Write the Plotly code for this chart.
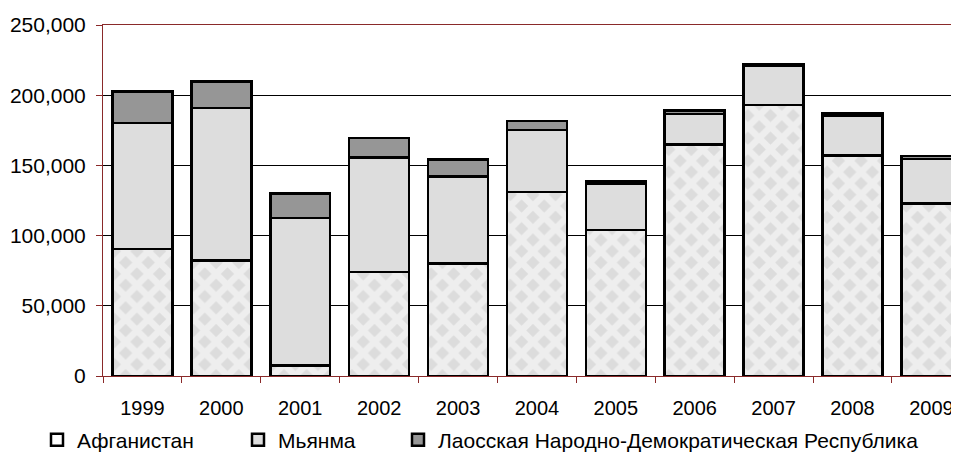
import plotly.graph_objects as go

years = ["1999", "2000", "2001", "2002", "2003", "2004", "2005", "2006", "2007", "2008", "2009"]
afghanistan = [90583, 82171, 7606, 74100, 80000, 131000, 104000, 165000, 193000, 157000, 123000]
myanmar = [89500, 108700, 105000, 81400, 62200, 44200, 32800, 21500, 27700, 28500, 31700]
laos = [22543, 19052, 17255, 14000, 12000, 6600, 1800, 2500, 1500, 1600, 1900]
y_ticks = [0, 50000, 100000, 150000, 200000, 250000]

W, H = 951, 447          # page body has an 8px margin inside the 959x463 window
axis_red = "#8a2a2a"
FAM = "Liberation Sans, Arial, sans-serif"
font = dict(family=FAM, size=20, color="black")
legend_font = dict(family=FAM, size=21, color="black")

fig = go.Figure()
fig.add_trace(go.Bar(
    x=years, y=afghanistan, name="Афганистан", showlegend=False,
    marker=dict(color="#dcdcdc", line=dict(color="black", width=2.5),
                pattern=dict(shape="x", fgcolor="white", bgcolor="#dcdcdc", size=16, solidity=0.66)),
))
# legend-only entry for Афганистан (plain white swatch as in the reference)
fig.add_trace(go.Bar(
    x=[years[0]], y=[None], name="Афганистан", legend="legend", showlegend=True,
    marker=dict(color="white", line=dict(color="black", width=2.5)), hoverinfo="skip",
))
fig.add_trace(go.Bar(
    x=years, y=myanmar, name="Мьянма", legend="legend2",
    marker=dict(color="#dddddd", line=dict(color="black", width=2.5)),
))
fig.add_trace(go.Bar(
    x=years, y=laos, name="Лаосская Народно-Демократическая Республика", legend="legend3",
    marker=dict(color="#969696", line=dict(color="black", width=2.5)),
))

def leg(square_px):
    return dict(orientation="h", xref="container", yref="container",
                x=(square_px - 23) / W, xanchor="left",
                y=15 / H, yanchor="middle", font=legend_font, itemwidth=30,
                bgcolor="rgba(0,0,0,0)", borderwidth=0)

fig.update_layout(
    barmode="stack",
    bargap=0.24,
    width=W, height=H,
    margin=dict(l=95, r=0, t=17, b=79),
    paper_bgcolor="white", plot_bgcolor="white",
    font=font,
    showlegend=True,
    legend=leg(52),
    legend2=leg(253),
    legend3=leg(413),
    xaxis=dict(type="category", range=[-0.5, 10.35], showline=True, linecolor=axis_red, linewidth=1,
               mirror=True, ticks="outside", tickson="boundaries", ticklen=6, tickcolor=axis_red,
               showgrid=False, ticklabelstandoff=14, automargin=False),
    yaxis=dict(range=[0, 250000], tickvals=y_ticks, tickformat=",", showline=True, linecolor=axis_red,
               linewidth=1, ticks="outside", ticklen=6, tickcolor=axis_red, showgrid=True,
               gridcolor="black", gridwidth=1, zeroline=False, ticklabelstandoff=6, automargin=False,
               tickfont=dict(family=FAM, size=21, color="black")),
)

fig.write_html("out.html")
